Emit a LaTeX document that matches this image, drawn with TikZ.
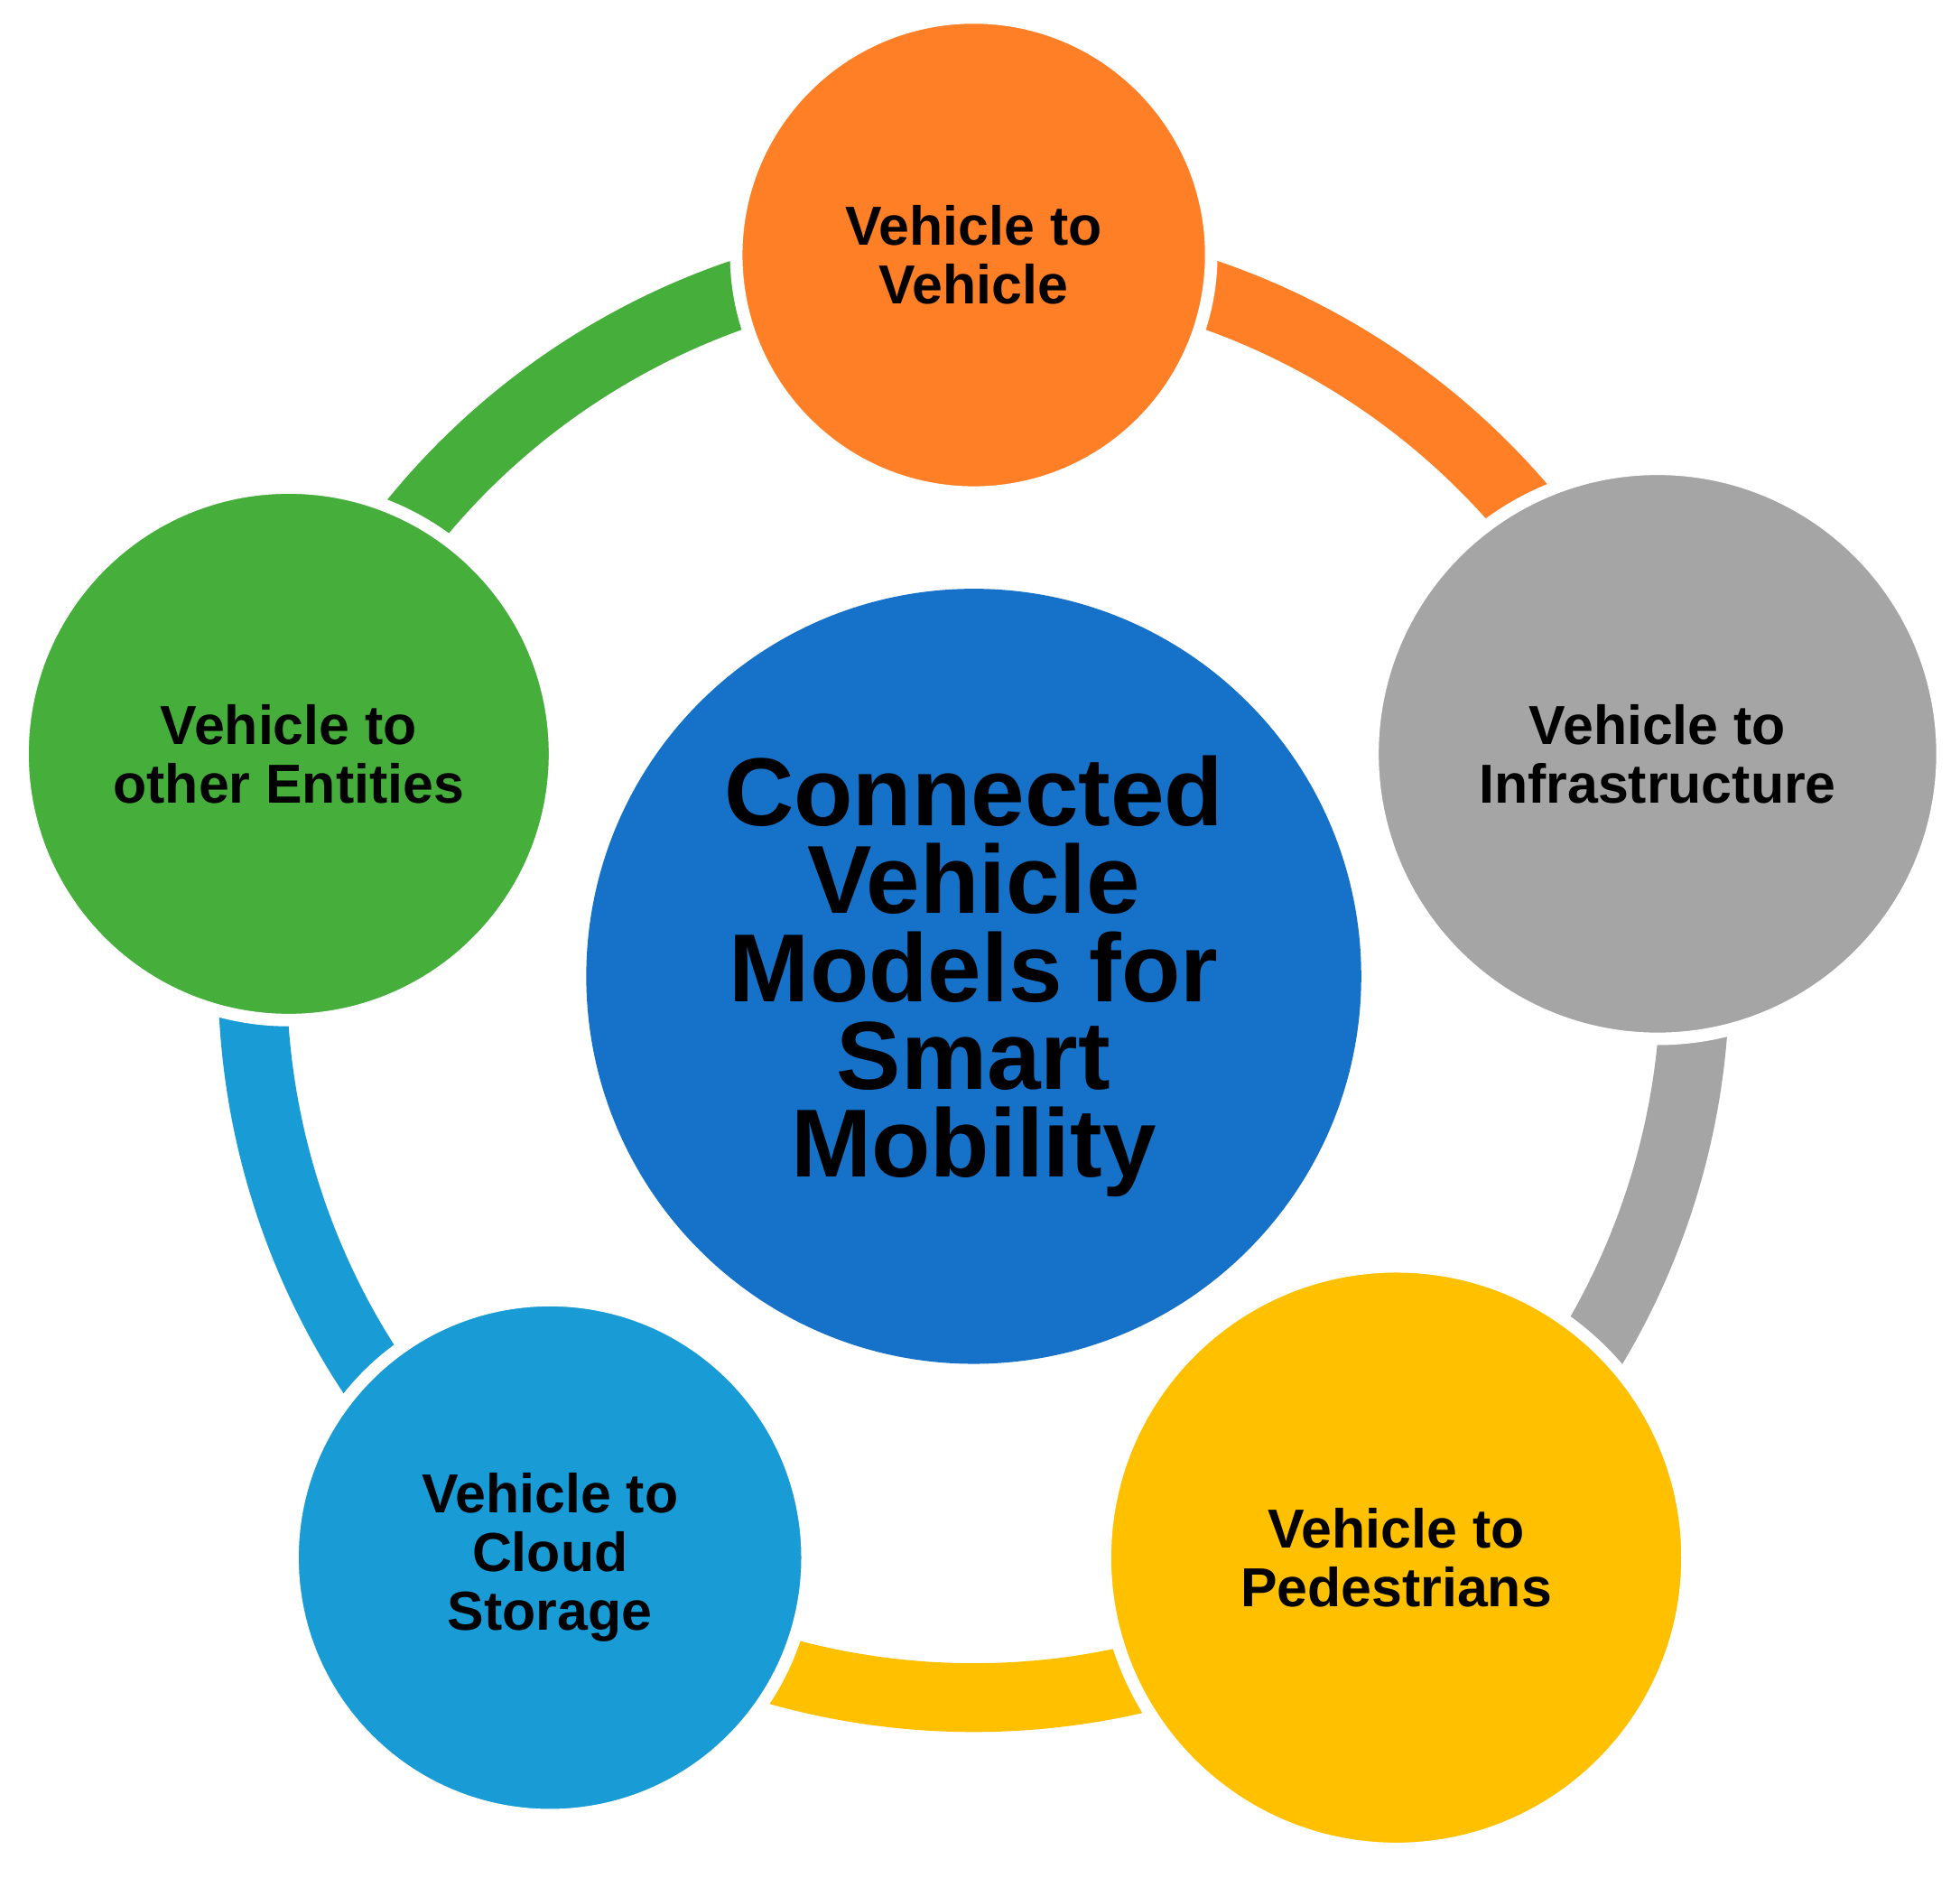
\documentclass[tikz,border=0pt]{standalone}
\usepackage{fontspec}
\setmainfont{Liberation Sans}
\usetikzlibrary{calc}
\definecolor{corange}{HTML}{FF7F27}
\definecolor{cgray}{HTML}{A5A5A5}
\definecolor{cyellow}{HTML}{FFC000}
\definecolor{cblue}{HTML}{1672C9}
\definecolor{clblue}{HTML}{199BD6}
\definecolor{cgreen}{HTML}{46AF3C}
\begin{document}
\begin{tikzpicture}[x=0.1mm,y=0.1mm,
  sat/.style={circle,draw=white,line width=1mm,inner sep=0pt,align=center,
    font=\fontsize{12.5pt}{13.4pt}\selectfont\bfseries},
  ring/.style={line width=5.5mm}]
\useasboundingbox (0,0) rectangle (1568,1502);
\coordinate (c) at (779,721);
\draw[ring,corange] ($(c)+(90:577)$) arc[start angle=90,end angle=18,radius=577];
\draw[ring,cgray] ($(c)+(18:577)$) arc[start angle=18,end angle=-54,radius=577];
\draw[ring,cyellow] ($(c)+(-54:577)$) arc[start angle=-54,end angle=-126,radius=577];
\draw[ring,clblue] ($(c)+(-126:577)$) arc[start angle=-126,end angle=-198,radius=577];
\draw[ring,cgreen] ($(c)+(162:577)$) arc[start angle=162,end angle=90,radius=577];
\node[circle,fill=cblue,minimum size=2*310*0.1mm,inner sep=0pt,align=center,
  font=\fontsize{22pt}{20pt}\selectfont\bfseries] (center) at (c)
  {Connected\\Vehicle\\Models for\\Smart\\Mobility};
\node[sat,fill=corange,minimum size=2*190*0.1mm] (v2v) at (779,1298) {Vehicle to\\Vehicle};
\node[sat,fill=cgray,minimum size=2*228*0.1mm] (v2i) at (1326,899) {Vehicle to\\Infrastructure};
\node[sat,fill=cyellow,minimum size=2*233*0.1mm] (v2p) at (1117,256) {Vehicle to\\Pedestrians};
\node[sat,fill=clblue,minimum size=2*206*0.1mm] (v2c) at (440,256) {Vehicle to\\Cloud\\Storage};
\node[sat,fill=cgreen,minimum size=2*213*0.1mm] (v2o) at (231,899) {Vehicle to\\other Entities};
\end{tikzpicture}
\end{document}
